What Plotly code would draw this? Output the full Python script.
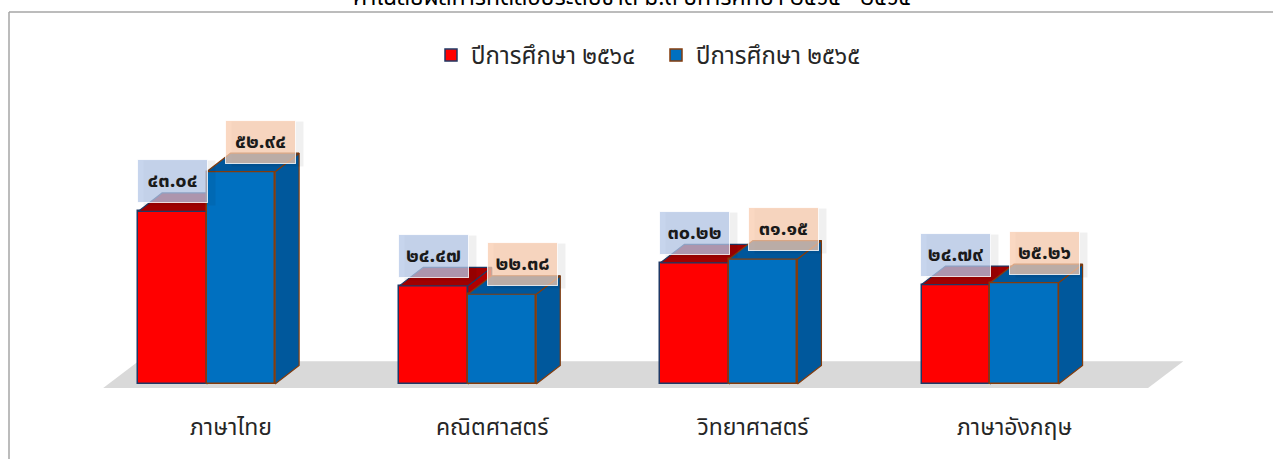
import plotly.graph_objects as go

categories = ["ภาษาไทย", "คณิตศาสตร์", "วิทยาศาสตร์", "ภาษาอังกฤษ"]
series_names = ["ปีการศึกษา ๒๕๖๔", "ปีการศึกษา ๒๕๖๕"]
values_2564 = [43.04, 24.47, 30.22, 24.79]
values_2565 = [52.94, 22.38, 31.15, 25.26]
labels_2564 = ["๔๓.๐๔", "๒๔.๔๗", "๓๐.๒๒", "๒๔.๗๙"]
labels_2565 = ["๕๒.๙๔", "๒๒.๓๘", "๓๑.๑๕", "๒๕.๒๖"]
title_text = "ค่าเฉลี่ยผลการทดสอบระดับชาติ ม.๓ ปีการศึกษา ๒๕๖๔ - ๒๕๖๕"

W, H = 1273, 459
# plot area = whole figure; axis ranges chosen so category 0 sits at 206.6px, baseline at 384px
PXX, PXY = 261.16, 4.01
X0PIX, Y0PIX = 206.6, 384.0
XR = [-X0PIX / PXX, (W - X0PIX) / PXX]
YR = [-(H - Y0PIX) / PXY, Y0PIX / PXY]

BW = 68.5 / PXX          # bar width in x units
DX = 24 / PXX            # depth offset x
DY = 18.5 / PXY          # depth offset y

FONT = "Leelawadee UI, Tahoma, Noto Sans Thai, Noto Sans, DejaVu Sans, sans-serif"

series = [
    dict(name=series_names[0], vals=values_2564, labs=labels_2564, off=-0.5,
         front="#FF0000", top="#A00000", side="#B00000", line="#1F3864",
         box="rgba(180,199,231,0.75)", lab_shift=0.0, axis=("x", "y")),
    dict(name=series_names[1], vals=values_2565, labs=labels_2565, off=0.5,
         front="#0070C0", top="#00569A", side="#00589C", line="#843C0C",
         box="rgba(248,203,173,0.75)", lab_shift=20 / PXX, axis=("x2", "y2")),
]

fig = go.Figure()
n = len(categories)

# floor (drawn beneath all traces)
fx0, fx1 = -0.396, n - 0.395
fb0, fb1 = -1.0, 5.7
fdx = 0.135
fig.add_shape(type="path", xref="x", yref="y", layer="below",
              path=f"M{fx0},{fb0} L{fx1},{fb0} L{fx1 + fdx},{fb1} L{fx0 + fdx},{fb1} Z",
              fillcolor="#D9D9D9", line=dict(width=0))

for s in series:
    xa, ya = s["axis"]
    centers = [i + s["off"] * BW for i in range(n)]
    sx, sy, tx, ty = [], [], [], []
    for c, v in zip(centers, s["vals"]):
        x0, x1 = c - BW / 2, c + BW / 2
        sx += [x1, x1 + DX, x1 + DX, x1, x1, None]
        sy += [0, DY, v + DY, v, 0, None]
        tx += [x0, x1, x1 + DX, x0 + DX, x0, None]
        ty += [v, v, v + DY, v + DY, v, None]
    fig.add_trace(go.Bar(x=centers, y=s["vals"], width=BW, name=s["name"],
                         marker=dict(color=s["front"], line=dict(color=s["line"], width=1.5)),
                         xaxis=xa, yaxis=ya, hoverinfo="skip"))
    fig.add_trace(go.Scatter(x=sx, y=sy, fill="toself", mode="lines", fillcolor=s["side"],
                             line=dict(color=s["line"], width=1.2), hoverinfo="skip",
                             showlegend=False, xaxis=xa, yaxis=ya))
    fig.add_trace(go.Scatter(x=tx, y=ty, fill="toself", mode="lines", fillcolor=s["top"],
                             line=dict(color=s["line"], width=1.2), hoverinfo="skip",
                             showlegend=False, xaxis=xa, yaxis=ya))
    for c, v, lab in zip(centers, s["vals"], s["labs"]):
        fig.add_annotation(x=c + s["lab_shift"], y=v, xref=xa, yref=ya, text="",
                           showarrow=False, yanchor="bottom", yshift=5, xshift=7,
                           width=69, height=42, bgcolor="rgba(0,0,0,0.06)")
        fig.add_annotation(x=c + s["lab_shift"], y=v, xref=xa, yref=ya, text="<b>" + lab + "</b>",
                           showarrow=False, yanchor="bottom", yshift=8,
                           width=67, height=40, bgcolor=s["box"],
                           bordercolor="rgba(255,255,255,0.8)", borderwidth=1,
                           font=dict(family=FONT, size=20, color="#1a1a1a"))

for i, cat in enumerate(categories):
    fig.add_annotation(x=i + 0.095, y=(Y0PIX - 428) / PXY, xref="x", yref="y", text=cat,
                       showarrow=False, font=dict(family=FONT, size=23, color="#262626"))

# title (mostly outside the top of the view, as in the reference)
fig.add_annotation(x=632 / W, y=1 - 17 / H, xref="paper", yref="paper",
                   text=title_text, showarrow=False, yanchor="bottom",
                   font=dict(family=FONT, size=23, color="#000000"))

# chart border (left & top)
fig.add_shape(type="line", xref="paper", yref="paper", x0=9 / W, x1=9 / W,
              y0=1 - 12 / H, y1=-0.05, line=dict(color="#A6A6A6", width=1.5))
fig.add_shape(type="line", xref="paper", yref="paper", x0=9 / W, x1=1.05,
              y0=1 - 12 / H, y1=1 - 12 / H, line=dict(color="#A6A6A6", width=1.5))

axis_common = dict(showgrid=False, zeroline=False, showticklabels=False, ticks="",
                   showline=False, fixedrange=True)
fig.update_layout(
    width=W, height=H,
    margin=dict(l=0, r=0, t=0, b=0),
    paper_bgcolor="white", plot_bgcolor="rgba(0,0,0,0)",
    barmode="overlay", bargap=0,
    xaxis=dict(range=XR, **axis_common),
    yaxis=dict(range=YR, **axis_common),
    xaxis2=dict(range=XR, overlaying="x", **axis_common),
    yaxis2=dict(range=YR, overlaying="y", **axis_common),
    legend=dict(orientation="h", x=431 / W, xanchor="left", y=1 - 33 / H, yanchor="top",
                font=dict(family=FONT, size=24, color="#262626"),
                entrywidth=180, entrywidthmode="pixels",
                bgcolor="rgba(0,0,0,0)", traceorder="normal"),
    showlegend=True,
)

fig.write_html("out.html", post_script="document.body.style.margin='0';",
               config={"displayModeBar": False})
